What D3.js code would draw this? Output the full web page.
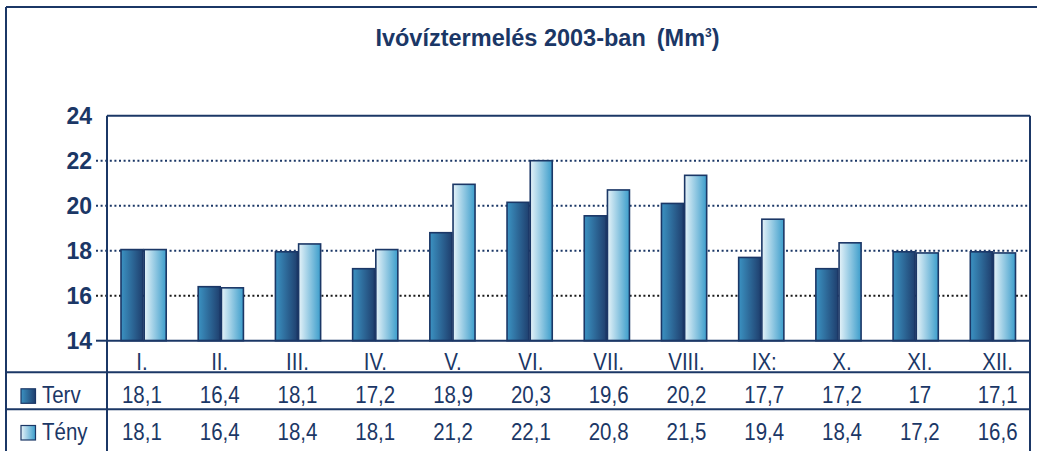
<!DOCTYPE html>
<html><head><meta charset="utf-8">
<script src="https://cdn.jsdelivr.net/npm/d3@7"></script>
<style>body{margin:0;background:#fff}svg{display:block}</style>
</head><body><svg id="c" width="1037" height="451"></svg>
<script>
const months = ["I.","II.","III.","IV.","V.","VI.","VII.","VIII.","IX:","X.","XI.","XII."];
const seriesNames = ["Terv","Tény"];
// bar heights as drawn in the picture
const tervBars = [18.05,16.4,17.95,17.2,18.8,20.15,19.55,20.1,17.7,17.2,17.95,17.95];
const tenyBars = [18.05,16.35,18.3,18.05,20.95,22.0,20.7,21.35,19.4,18.35,17.9,17.9];
// values printed in the data table
const tervTable = ["18,1","16,4","18,1","17,2","18,9","20,3","19,6","20,2","17,7","17,2","17","17,1"];
const tenyTable = ["18,1","16,4","18,4","18,1","21,2","22,1","20,8","21,5","19,4","18,4","17,2","16,6"];
const yTicks = [14,16,18,20,22,24];
const titleMain = "Ivóvíztermelés 2003-ban";
const titleUnit = "(Mm";
const titleSup = "3";

const navy = "#1b3766";
const svg = d3.select("#c");
const FONT = "'Liberation Sans', Arial, sans-serif";

const L = 107, R = 1030, T = 115.7, B = 340.7;
const y = d3.scaleLinear().domain([14,24]).range([B,T]);
const x = d3.scaleBand().domain(months).range([105,1031.5]);
const xt = d3.scaleBand().domain(months).range([103,1036.5]);

const defs = svg.append("defs");
function grad(id, c0, c1){
  const g = defs.append("linearGradient").attr("id",id).attr("x1","0%").attr("x2","100%").attr("y1","0%").attr("y2","0%");
  g.append("stop").attr("offset","0%").attr("stop-color",c0);
  g.append("stop").attr("offset","100%").attr("stop-color",c1);
}
grad("gTerv","#3b92c2","#1f3f6e");
grad("gTeny","#e6f3f9","#3c9dcb");
const fills = ["url(#gTerv)","url(#gTeny)"];

// title
const tt = svg.append("text").attr("x",547.5).attr("y",46).attr("text-anchor","middle")
  .attr("font-family",FONT).attr("font-weight","bold").attr("font-size",23.5).attr("fill",navy);
tt.append("tspan").text(titleMain);
tt.append("tspan").attr("dx",11).text(titleUnit);
tt.append("tspan").attr("font-size",12).attr("dy",-9).text(titleSup);
tt.append("tspan").attr("dy",9).text(")");

// gridlines
yTicks.filter(v=>v>14 && v<24).forEach(v=>{
  svg.append("line").attr("x1",96).attr("x2",R).attr("y1",y(v)).attr("y2",y(v))
    .attr("stroke", v===16 ? "#1a1a1a" : navy).attr("stroke-width",2)
    .attr("stroke-dasharray","2,2.6");
});
svg.append("line").attr("x1",96).attr("x2",L).attr("y1",B).attr("y2",B).attr("stroke",navy).attr("stroke-width",2);

// y labels
const yAxis = d3.axisLeft(y).tickValues(yTicks).tickSize(0).tickPadding(0);
const ga = svg.append("g").attr("transform",`translate(92,0)`).call(yAxis);
ga.select(".domain").remove();
ga.selectAll("text").attr("font-family",FONT).attr("font-weight","bold").attr("font-size",23)
  .attr("fill",navy).attr("dy","0.36em");

// bars
const bw = 22, gap = 1.2;
[tervBars, tenyBars].forEach((vals,si)=>{
  svg.append("g").selectAll("rect").data(vals).join("rect")
    .attr("x",(d,i)=> x(months[i]) + x.bandwidth()/2 + (si===0 ? -(bw+gap/2) : gap/2))
    .attr("width",bw)
    .attr("y",d=>y(d))
    .attr("height",d=>B - y(d))
    .attr("fill",fills[si])
    .attr("stroke",navy).attr("stroke-width",1.6);
});

// frame lines
const line = (x1,y1,x2,y2,w)=>svg.append("line").attr("x1",x1).attr("y1",y1).attr("x2",x2).attr("y2",y2)
  .attr("stroke",navy).attr("stroke-width",w||2);
line(6,7,1037,7);
line(6,7,6,451);
line(L,T,R,T);
line(L,T,L,451);
line(R,T,R,451);
line(L,B,R,B);
line(6,372.3,R,372.3);
line(6,409.3,R,409.3);

function ctext(xp, yp, str, anchor){
  svg.append("text").attr("transform",`translate(${xp},${yp}) scale(0.89,1)`)
    .attr("text-anchor",anchor||"middle").attr("font-family",FONT).attr("font-size",23)
    .attr("fill",navy).text(str);
}
months.forEach((m,i)=> ctext(xt(m)+xt.bandwidth()/2, 369.5, m));
tervTable.forEach((v,i)=> ctext(xt(months[i])+xt.bandwidth()/2, 402.8, v));
tenyTable.forEach((v,i)=> ctext(xt(months[i])+xt.bandwidth()/2, 440, v));

[403.3, 440].forEach((by,si)=>{
  svg.append("rect").attr("x",21).attr("y",by-14.5).attr("width",14.5).attr("height",14.5)
    .attr("fill",fills[si]).attr("stroke",navy).attr("stroke-width",1.2);
  ctext(42, by-0.5, seriesNames[si], "start");
});
</script>
</body></html>
